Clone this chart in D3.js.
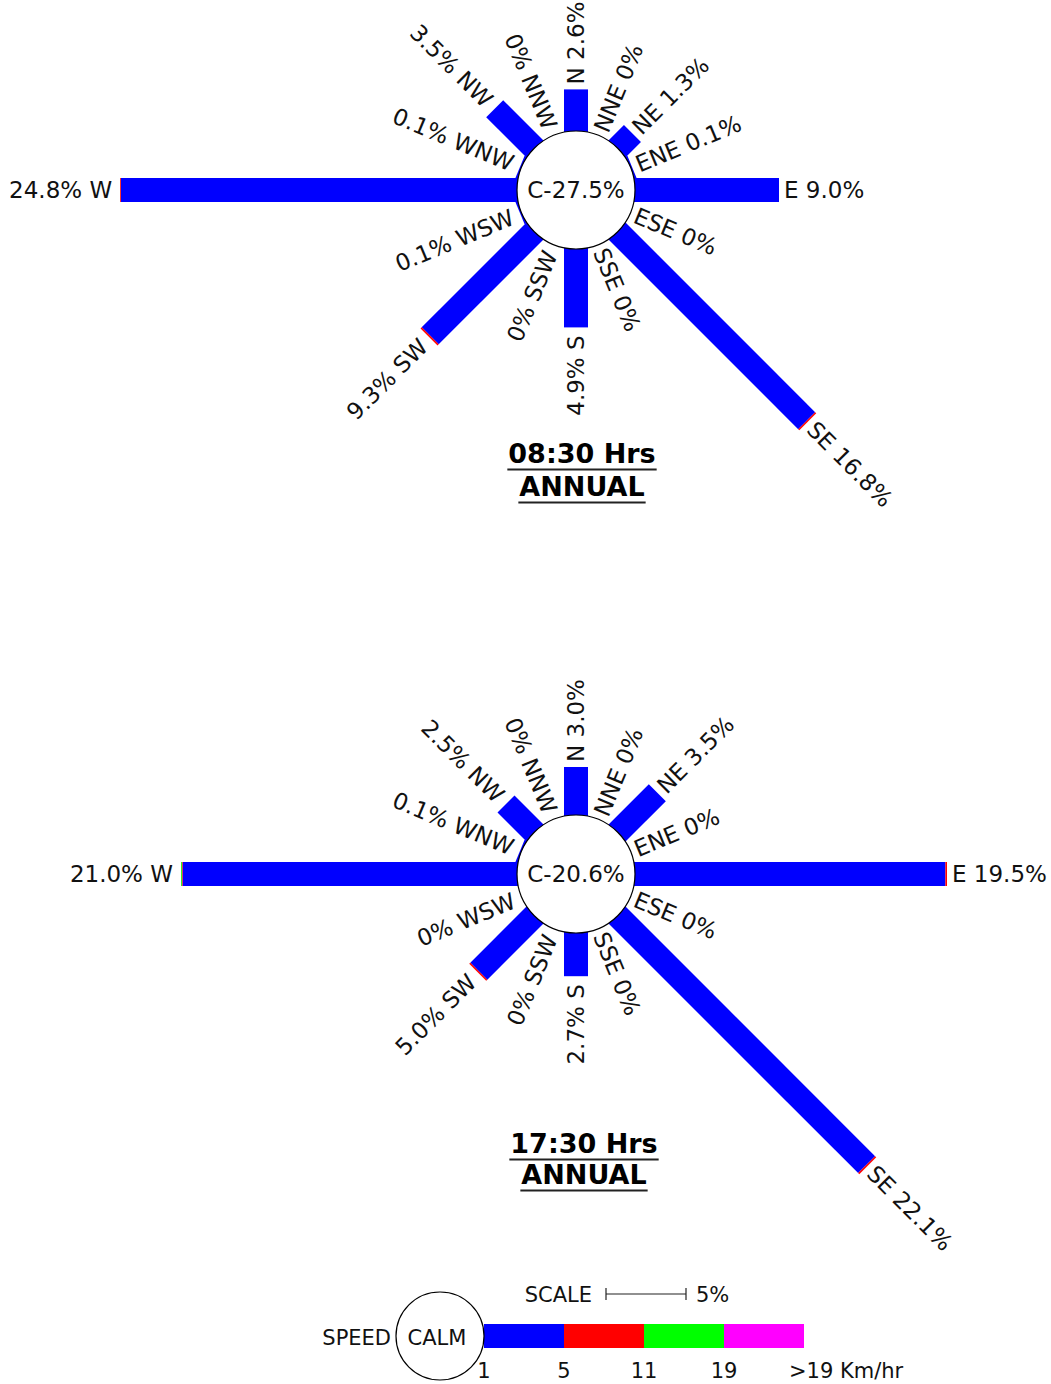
<!DOCTYPE html>
<html>
<head>
<meta charset="utf-8">
<script src="https://cdn.jsdelivr.net/npm/d3@7"></script>
<style>
  html, body { margin: 0; padding: 0; background: #fff; }
  svg { display: block; font-family: "DejaVu Sans", Verdana, sans-serif; }
</style>
</head>
<body>
<svg id="chart" width="1051" height="1384"></svg>
<script>
// ---------- DATA ----------
const directions = ["N","NNE","NE","ENE","E","ESE","SE","SSE","S","SSW","SW","WSW","W","WNW","NW","NNW"];

// 08:30 Hrs, percentage of observations per speed class (km/hr)
const morningCalm = 27.5;
const morning1to5   = [2.6, 0, 1.3, 0.1, 9.0, 0, 16.7, 0, 4.9, 0, 9.2, 0.1, 24.75, 0.1, 3.5, 0];
const morning5to11  = [0,   0, 0,   0,   0,   0, 0.1,  0, 0,   0, 0.1, 0,   0.05,  0,   0,   0];
const morning11to19 = [0,   0, 0,   0,   0,   0, 0,    0, 0,   0, 0,   0,   0,     0,   0,   0];
const morningOver19 = [0,   0, 0,   0,   0,   0, 0,    0, 0,   0, 0,   0,   0,     0,   0,   0];

// 17:30 Hrs
const eveningCalm = 20.6;
const evening1to5   = [3.0, 0, 3.5, 0, 19.4, 0, 22.0, 0, 2.7, 0, 4.9, 0, 20.9, 0.1, 2.5, 0];
const evening5to11  = [0,   0, 0,   0, 0.1,  0, 0.1,  0, 0,   0, 0.1, 0, 0.05, 0,   0,   0];
const evening11to19 = [0,   0, 0,   0, 0,    0, 0,    0, 0,   0, 0,   0, 0.05, 0,   0,   0];
const eveningOver19 = [0,   0, 0,   0, 0,    0, 0,    0, 0,   0, 0,   0, 0,    0,   0,   0];

const speedLabels = ["1", "5", "11", "19", ">19 Km/hr"];
const speedColors = ["#0000ff", "#ff0000", "#00ff00", "#ff00ff"];
const scalePercent = 5;

// ---------- LAYOUT ----------
const svg = d3.select("#chart");
const R = 59;          // calm circle radius
const BAR = 24;        // bar thickness
const len = d3.scaleLinear().domain([0, 1]).range([0, 16]); // px per percent
const FS = 23;

function fmt(v) { return v === 0 ? "0%" : v.toFixed(1) + "%"; }

function drawRose(cfg) {
  const g = svg.append("g").attr("transform", `translate(${cfg.cx},${cfg.cy})`);
  const classes = cfg.speeds;
  directions.forEach((dir, i) => {
    const ang = i * 22.5 - 90;
    const dg = g.append("g").attr("transform", `rotate(${ang})`);
    let start = 0;
    const total = d3.sum(classes, s => s[i]);
    classes.forEach((s, k) => {
      const v = s[i];
      if (v <= 0) return;
      const x0 = k === 0 ? 0 : R + len(start);
      const x1 = R + len(start + v);
      dg.append("rect")
        .attr("x", x0).attr("y", -BAR / 2)
        .attr("width", x1 - x0).attr("height", BAR)
        .attr("fill", speedColors[k]);
      start += v;
    });
    const d = R + len(total) + (i < 8 ? 5 : 8);
    const label = i < 8 ? `${dir} ${fmt(total)}` : `${fmt(total)} ${dir}`;
    const t = dg.append("text")
      .attr("x", d).attr("y", 0)
      .attr("dy", "0.36em")
      .attr("font-size", FS)
      .attr("fill", "#111")
      .text(label);
    if (i < 8) {
      t.attr("text-anchor", "start");
    } else {
      t.attr("text-anchor", "end").attr("transform", `rotate(180,${d},0)`);
    }
  });
  g.append("circle").attr("r", R).attr("fill", "#fff").attr("stroke", "#000").attr("stroke-width", 1.2);
  g.append("text").attr("text-anchor", "middle").attr("dy", "0.36em")
    .attr("font-size", FS).attr("fill", "#111").text("C-" + cfg.calm.toFixed(1) + "%");

  cfg.titles.forEach((tt, j) => {
    const t = svg.append("text")
      .attr("x", cfg.titleX).attr("y", cfg.titleY[j])
      .attr("text-anchor", "middle")
      .attr("font-size", 27).attr("font-weight", "bold").attr("fill", "#000")
      .text(tt);
    const w = t.node().getComputedTextLength();
    svg.append("line")
      .attr("x1", cfg.titleX - w / 2 - 1).attr("x2", cfg.titleX + w / 2 + 1)
      .attr("y1", cfg.titleY[j] + 6.5).attr("y2", cfg.titleY[j] + 6.5)
      .attr("stroke", "#222").attr("stroke-width", 2);
  });
}

drawRose({
  cx: 576, cy: 190, calm: morningCalm,
  speeds: [morning1to5, morning5to11, morning11to19, morningOver19],
  titles: ["08:30 Hrs", "ANNUAL"], titleX: 582, titleY: [463, 496]
});
drawRose({
  cx: 576, cy: 874, calm: eveningCalm,
  speeds: [evening1to5, evening5to11, evening11to19, eveningOver19],
  titles: ["17:30 Hrs", "ANNUAL"], titleX: 584, titleY: [1153, 1184]
});

// ---------- LEGEND ----------
const LF = 21;
const leg = svg.append("g");
// scale bar
const sx0 = 606, sy = 1294;
const sx1 = sx0 + len(scalePercent);
leg.append("text").attr("x", sx0 - 14).attr("y", sy + 8).attr("text-anchor", "end")
  .attr("font-size", LF).attr("fill", "#111").text("SCALE");
leg.append("line").attr("x1", sx0).attr("x2", sx1).attr("y1", sy).attr("y2", sy).attr("stroke", "#222").attr("stroke-width", 1.2);
[sx0, sx1].forEach(x => leg.append("line").attr("x1", x).attr("x2", x).attr("y1", sy - 6).attr("y2", sy + 6).attr("stroke", "#222").attr("stroke-width", 1.2));
leg.append("text").attr("x", sx1 + 10).attr("y", sy + 8).attr("font-size", LF).attr("fill", "#111").text(scalePercent + "%");

// speed legend
const ccx = 440, ccy = 1336, cr = 44;
leg.append("text").attr("x", ccx - cr - 5).attr("y", ccy + 9).attr("text-anchor", "end")
  .attr("font-size", LF).attr("fill", "#111").text("SPEED");
const bx0 = ccx + cr;
speedColors.forEach((c, k) => {
  leg.append("rect")
    .attr("x", bx0 + len(scalePercent * k)).attr("y", ccy - 12)
    .attr("width", len(scalePercent)).attr("height", BAR)
    .attr("fill", c);
});
leg.append("circle").attr("cx", ccx).attr("cy", ccy).attr("r", cr).attr("fill", "#fff").attr("stroke", "#000").attr("stroke-width", 1.2);
leg.append("text").attr("x", ccx - 3).attr("y", ccy + 9).attr("text-anchor", "middle")
  .attr("font-size", LF).attr("fill", "#111").text("CALM");
speedLabels.forEach((s, k) => {
  const x = bx0 + len(scalePercent * k);
  const last = k === speedLabels.length - 1;
  leg.append("text")
    .attr("x", last ? x - 15 : x)
    .attr("y", 1378)
    .attr("text-anchor", last ? "start" : "middle")
    .attr("font-size", LF).attr("fill", "#111").text(s);
});
</script>
</body>
</html>
